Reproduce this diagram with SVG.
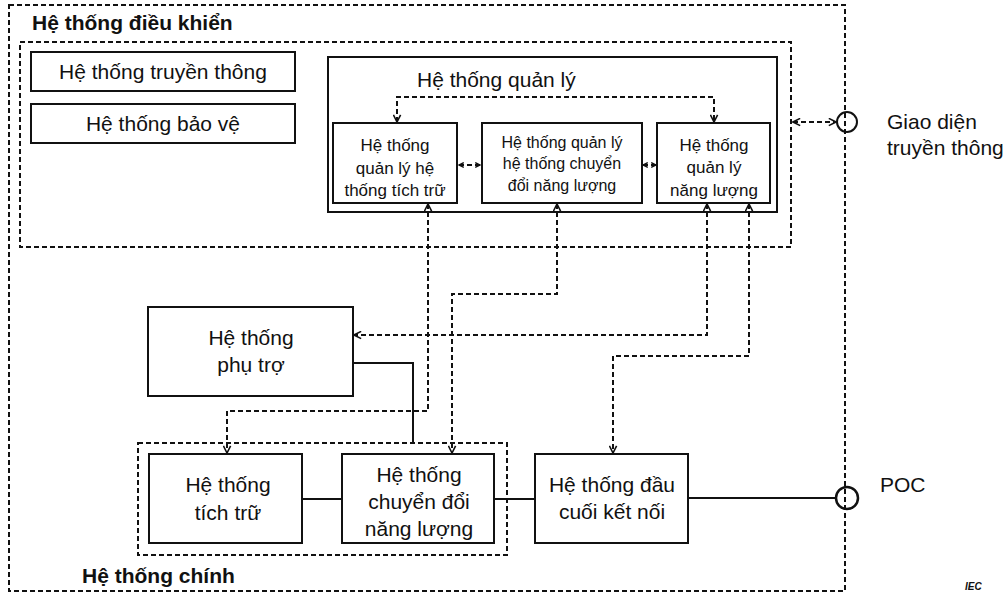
<svg xmlns="http://www.w3.org/2000/svg" width="1007" height="596" viewBox="0 0 1007 596">
<defs>
<style>
.t{font-family:"Liberation Sans",Arial,sans-serif;fill:#111;}
.m{font-size:21px;}
.s{font-size:17px;}
.xs{font-size:16px;}
.b{font-weight:bold;}
.box{fill:#fff;stroke:#111;stroke-width:2;}
.grp{fill:none;stroke:#111;stroke-width:2;stroke-dasharray:5 3;}
.dl{fill:none;stroke:#111;stroke-width:2;stroke-dasharray:5 3;}
.sl{fill:none;stroke:#111;stroke-width:2;}
.c{text-anchor:middle;}
</style>
<marker id="ah" viewBox="0 0 10 10" refX="9" refY="5" markerWidth="9" markerHeight="9" markerUnits="userSpaceOnUse" orient="auto-start-reverse">
<path d="M1,1 L9,5 L1,9" fill="none" stroke="#111" stroke-width="1.8"/>
</marker>
<marker id="ahs" viewBox="0 0 10 10" refX="9" refY="5" markerWidth="6" markerHeight="7" markerUnits="userSpaceOnUse" orient="auto-start-reverse">
<path d="M1,1 L9,5 L1,9" fill="none" stroke="#111" stroke-width="2.4"/>
</marker>
</defs>
<rect width="1007" height="596" fill="#fff"/>

<g id="control-system">
<rect class="grp" x="9" y="5" width="836" height="586"/>
<text class="t m b" x="32" y="30">Hệ thống điều khiển</text>
<rect class="grp" x="20" y="42" width="771" height="205"/>
</g>

<g id="comm-system">
<rect class="box" x="31" y="52" width="264" height="39"/>
<text class="t m c" x="163" y="79">Hệ thống truyền thông</text>
</g>
<g id="protection-system">
<rect class="box" x="31" y="104" width="264" height="39"/>
<text class="t m c" x="163" y="131">Hệ thống bảo vệ</text>
</g>

<g id="management-system">
<rect class="box" x="328" y="57" width="449" height="155"/>
<text class="t m" x="417" y="87">Hệ thống quản lý</text>
</g>
<g id="storage-mgmt">
<rect class="box" x="333" y="123" width="124" height="80"/>
<text class="t s c" x="395" y="151">Hệ thống</text>
<text class="t s c" x="395" y="174">quản lý hệ</text>
<text class="t s c" x="395" y="196">thống tích trữ</text>
</g>
<g id="conversion-mgmt">
<rect class="box" x="482" y="123" width="160" height="80"/>
<text class="t xs c" x="562" y="148">Hệ thống quản lý</text>
<text class="t xs c" x="562" y="169">hệ thống chuyển</text>
<text class="t xs c" x="562" y="191">đổi năng lượng</text>
</g>
<g id="energy-mgmt">
<rect class="box" x="657" y="123" width="113" height="80"/>
<text class="t s c" x="714" y="151">Hệ thống</text>
<text class="t s c" x="714" y="173">quản lý</text>
<text class="t s c" x="714" y="196">năng lượng</text>
</g>

<g id="comm-interface">
<circle cx="847" cy="122" r="10" fill="none" stroke="#111" stroke-width="2"/>
<text class="t m" x="887" y="129">Giao diện</text>
<text class="t m" x="887" y="155">truyền thông</text>
</g>

<g id="auxiliary-system">
<rect class="box" x="148" y="307" width="205" height="89"/>
<text class="t m c" x="251" y="345">Hệ thống</text>
<text class="t m c" x="251" y="372">phụ trợ</text>
</g>

<g id="main-system">
<rect class="grp" x="138" y="443" width="369" height="112"/>
<text class="t m b" x="82" y="583">Hệ thống chính</text>
</g>
<g id="storage-system">
<rect class="box" x="149" y="454" width="153" height="89"/>
<text class="t m c" x="228" y="492">Hệ thống</text>
<text class="t m c" x="228" y="520">tích trữ</text>
</g>
<g id="conversion-system">
<rect class="box" x="342" y="454" width="152" height="89"/>
<text class="t m c" x="419" y="482">Hệ thống</text>
<text class="t m c" x="419" y="509">chuyển đổi</text>
<text class="t m c" x="419" y="536">năng lượng</text>
</g>
<g id="terminal-system">
<rect class="box" x="535" y="454" width="153" height="89"/>
<text class="t m c" x="612" y="492">Hệ thống đầu</text>
<text class="t m c" x="612" y="519">cuối kết nối</text>
</g>

<g id="poc">
<circle cx="847" cy="498" r="11" fill="none" stroke="#111" stroke-width="2.5"/>
<text class="t m" x="880" y="492">POC</text>
</g>

<text class="t b" x="965" y="590" font-size="10" font-style="italic">IEC</text>

<g id="connectors">
<path class="dl" d="M397,122 V97 H714 V122" marker-start="url(#ah)" marker-end="url(#ah)"/>
<path class="dl" d="M459,165 H480" stroke-dasharray="3 2" marker-start="url(#ahs)" marker-end="url(#ahs)"/>
<path class="dl" d="M643,165 H656" stroke-dasharray="2 2" marker-start="url(#ahs)" marker-end="url(#ahs)"/>
<path class="dl" d="M793,122 H836" marker-start="url(#ah)" marker-end="url(#ah)"/>
<path class="dl" d="M428,204 V411 H227 V453" marker-start="url(#ah)" marker-end="url(#ah)"/>
<path class="dl" d="M557,204 V294 H452 V453" marker-start="url(#ah)" marker-end="url(#ah)"/>
<path class="dl" d="M707,204 V335 H354" marker-start="url(#ah)" marker-end="url(#ah)"/>
<path class="dl" d="M749,204 V356 H613 V453" marker-start="url(#ah)" marker-end="url(#ah)"/>
<path class="sl" d="M353,363 H413 V443"/>
<path class="sl" d="M302,499 H342"/>
<path class="sl" d="M494,499 H535"/>
<path class="sl" d="M688,498 H836"/>
</g>
</svg>
